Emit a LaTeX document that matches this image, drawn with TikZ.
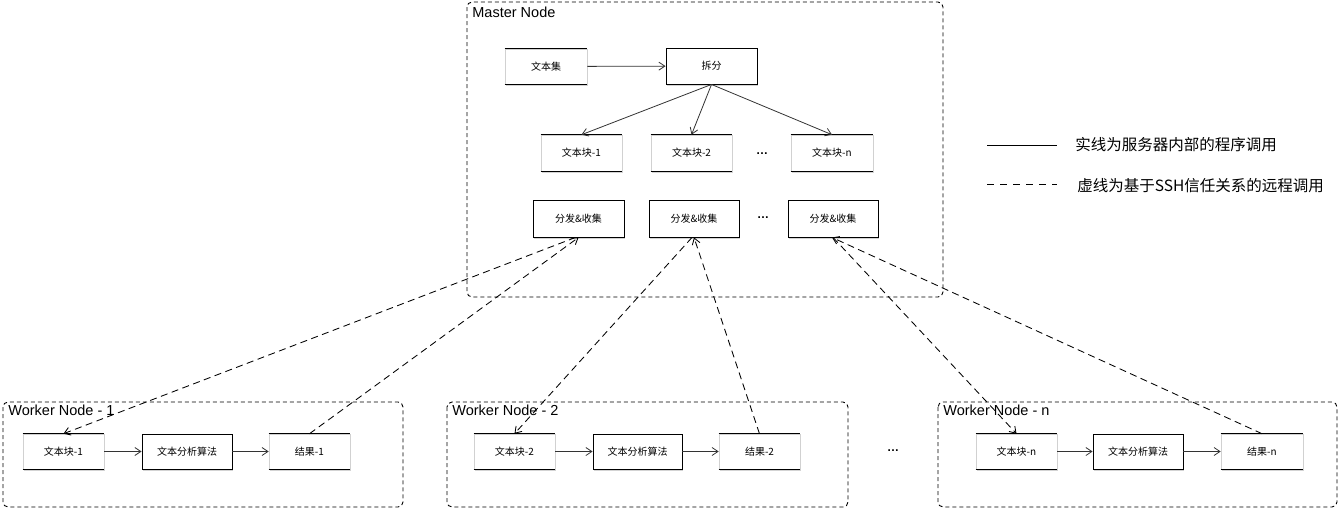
\documentclass[tikz,border=0pt]{standalone}
\usepackage{fontspec}
\setmainfont{Liberation Sans}
\newfontfamily\cjk{Noto Sans CJK SC}
\usetikzlibrary{arrows.meta,shadows}
\begin{document}
\begin{tikzpicture}[x=1pt,y=-1pt,
  >={Straight Barb[length=6pt,width=8pt]},
  line width=0.8pt,
  container/.style={draw,line width=0.9pt,dash pattern=on 4pt off 3pt,rounded corners=5pt},
  clabel/.style={anchor=north west,inner sep=0pt,font=\fontsize{14.5}{16}\selectfont},
  fullbox/.style={draw=black,line width=0.9pt,fill=white,inner sep=0pt,font=\cjk\fontsize{10}{12}\selectfont,
    drop shadow={shadow xshift=0.8pt,shadow yshift=-1.5pt,opacity=0.35}},
  sbox/.style={draw=black!18,line width=0.6pt,fill=white,inner sep=0pt,font=\cjk\fontsize{10}{12}\selectfont,
    drop shadow={shadow xshift=0.8pt,shadow yshift=-1.5pt,opacity=0.35},
    append after command={(\tikzlastnode.north west) edge[black,line width=0.9pt] (\tikzlastnode.north east)
      (\tikzlastnode.south west) edge[black,line width=1.2pt] (\tikzlastnode.south east)}},
  solidarrow/.style={->,draw=black!80},
  remote/.style={->,line width=0.85pt,dash pattern=on 7pt off 4.5pt},
  dotsnode/.style={font=\bfseries\fontsize{12}{14}\selectfont,inner sep=0pt}
]
\useasboundingbox (0,0) rectangle (1340,509);

% containers
\draw[container] (467,2) rectangle (943,297);
\node[clabel] (mlabel) at (472,7) {Master Node};
\draw[container] (3,402) rectangle (403,507);
\node[clabel] (w1label) at (8,405) {Worker Node - 1};
\draw[container] (447,402) rectangle (848,507);
\node[clabel] (w2label) at (452,405) {Worker Node - 2};
\draw[container] (938,402) rectangle (1337,507);
\node[clabel] (wnlabel) at (943,405) {Worker Node - n};

% master nodes
\node[sbox,minimum width=82pt,minimum height=35pt] (wbj) at (546,66.5) {文本集};
\node[fullbox,minimum width=91pt,minimum height=36pt] (cf) at (711.5,66) {拆分};
\node[sbox,minimum width=81pt,minimum height=36pt] (k1) at (581.5,153) {文本块-1};
\node[sbox,minimum width=81pt,minimum height=36pt] (k2) at (691.5,153) {文本块-2};
\node[sbox,minimum width=82pt,minimum height=36pt] (kn) at (832,153) {文本块-n};
\node[dotsnode] (kdots) at (762,154) {\dots};
\node[fullbox,minimum width=91pt,minimum height=37pt] (d1) at (578.5,218.5) {分发\&收集};
\node[fullbox,minimum width=90pt,minimum height=37pt] (d2) at (694,218.5) {分发\&收集};
\node[fullbox,minimum width=90pt,minimum height=37pt] (dn) at (833,218.5) {分发\&收集};
\node[dotsnode] (ddots) at (763,218) {\dots};

\draw[solidarrow] (wbj) -- (cf);
\draw[solidarrow] (cf.south) -- (k1.north);
\draw[solidarrow] (cf.south) -- (k2.north);
\draw[solidarrow] (cf.south) -- (kn.north);

% worker nodes
\node[sbox,minimum width=81pt,minimum height=35pt] (wk1) at (63.5,451.5) {文本块-1};
\node[fullbox,minimum width=90pt,minimum height=35pt] (wa1) at (187,451.5) {文本分析算法};
\node[sbox,minimum width=81pt,minimum height=35pt] (wr1) at (309.5,451.5) {结果-1};

\node[sbox,minimum width=81pt,minimum height=35pt] (wk2) at (514.5,451.5) {文本块-2};
\node[fullbox,minimum width=89pt,minimum height=35pt] (wa2) at (637.5,451.5) {文本分析算法};
\node[sbox,minimum width=81pt,minimum height=35pt] (wr2) at (759.5,451.5) {结果-2};

\node[sbox,minimum width=81pt,minimum height=35pt] (wkn) at (1016.5,451.5) {文本块-n};
\node[fullbox,minimum width=90pt,minimum height=35pt] (wan) at (1138,451.5) {文本分析算法};
\node[sbox,minimum width=82pt,minimum height=35pt] (wrn) at (1262,451.5) {结果-n};
\node[dotsnode] (wdots) at (893,451) {\dots};

\draw[solidarrow] (wk1) -- (wa1);
\draw[solidarrow] (wa1) -- (wr1);
\draw[solidarrow] (wk2) -- (wa2);
\draw[solidarrow] (wa2) -- (wr2);
\draw[solidarrow] (wkn) -- (wan);
\draw[solidarrow] (wan) -- (wrn);

% remote calls
\draw[remote] ([xshift=-3pt]d1.south) -- (wk1.north);
\draw[remote] (wr1.north) -- (d1.south);
\draw[remote] ([xshift=-2pt]d2.south) -- (wk2.north);
\draw[remote] (wr2.north) -- (d2.south);
\draw[remote] (dn.south) -- (wkn.north);
\draw[remote] (wrn.north) -- ([xshift=-1pt]dn.south);

% legend
\coordinate (ls1) at (987,145);
\coordinate (ls2) at (1057,145);
\draw (ls1) -- (ls2);
\node[anchor=west,inner sep=0pt,font=\cjk\fontsize{15.5}{17}\selectfont] (lt1) at (1075,145) {实线为服务器内部的程序调用};
\coordinate (ld1) at (987,184);
\coordinate (ld2) at (1057,184);
\draw[dash pattern=on 7pt off 6pt] (ld1) -- (ld2);
\node[anchor=west,inner sep=0pt,font=\cjk\fontsize{15.5}{17}\selectfont] (lt2) at (1077,186) {虚线为基于SSH信任关系的远程调用};
\end{tikzpicture}
\end{document}
